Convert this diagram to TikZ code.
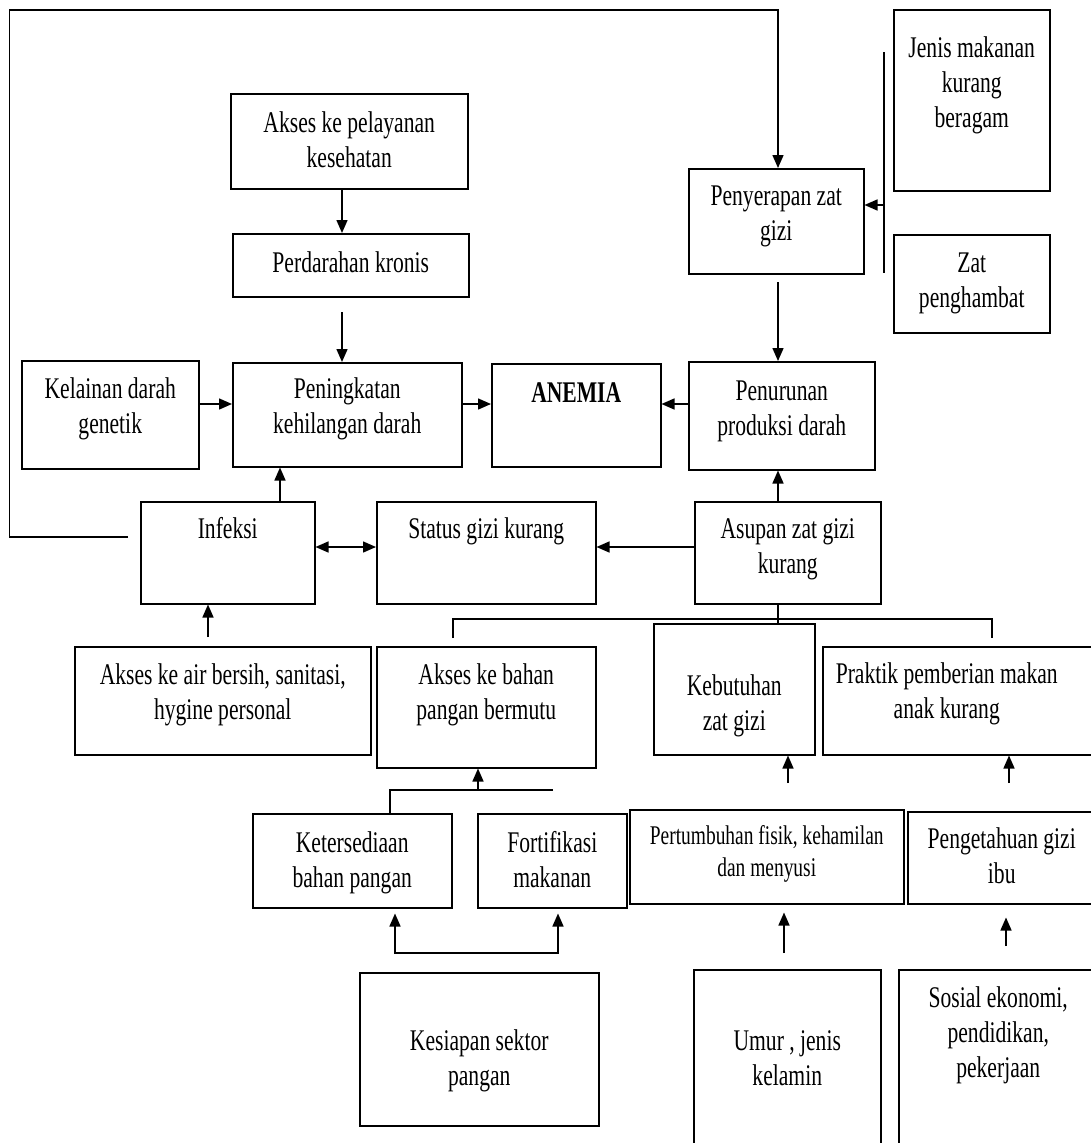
\documentclass[tikz,border=0pt]{standalone}
\usepackage{fontspec}
\setmainfont{Liberation Serif}[FakeStretch=0.72]
\usepackage{tikz}
\usetikzlibrary{arrows.meta}

\begin{document}
\begin{tikzpicture}[x=1pt, y=-1pt, line width=1.5pt, >={Triangle[length=13pt,width=11pt]},
    kotak/.style n args = {3}{draw, inner sep = 0pt, align = flush center, anchor = north west,
      text width = #1, text height = #2, text depth = #3, font = \fontsize{30}{35}\selectfont}]
  \useasboundingbox (0,0) rectangle (1091,1143);
  \clip (0,0) rectangle (1091,1143);

  \node[kotak={237pt}{39pt}{56pt}]  (akses)        at (230,93)  {Akses ke pelayanan\\kesehatan};
  \node[kotak={236pt}{39pt}{24pt}]  (perdarahan)   at (232,233) {Perdarahan kronis};
  \node[kotak={177pt}{38pt}{70pt}]  (kelainan)     at (21,360)  {Kelainan darah\\genetik};
  \node[kotak={229pt}{36pt}{68pt}]  (peningkatan)  at (232,362) {Peningkatan\\kehilangan darah};
  \node[kotak={169pt}{39pt}{64pt}]  (anemia)       at (491,363) {\textbf{ANEMIA}};
  \node[kotak={186pt}{39pt}{69pt}]  (penurunan)    at (688,361) {Penurunan\\produksi darah};
  \node[kotak={175pt}{37pt}{68pt}]  (penyerapan)   at (688,168) {Penyerapan zat\\gizi};
  \node[kotak={156pt}{48pt}{133pt}] (jenis)        at (893,9)   {Jenis makanan\\kurang\\beragam};
  \node[kotak={156pt}{38pt}{60pt}]  (zat)          at (893,234) {Zat\\penghambat};
  \node[kotak={174pt}{37pt}{65pt}]  (infeksi)      at (140,501) {Infeksi};
  \node[kotak={219pt}{37pt}{65pt}]  (status)       at (376,501) {Status gizi kurang};
  \node[kotak={186pt}{37pt}{65pt}]  (asupan)       at (694,501) {Asupan zat gizi\\kurang};
  \node[kotak={296pt}{38pt}{70pt}]  (airbersih)    at (74,646)  {Akses ke air bersih, sanitasi,\\hygine personal};
  \node[kotak={219pt}{38pt}{83pt}]  (bahan)        at (376,646) {Akses ke bahan\\pangan bermutu};
  \node[kotak={161pt}{72pt}{59pt}]  (kebutuhan)    at (653,623) {Kebutuhan\\zat gizi};
  \node[kotak={280pt}{37pt}{71pt}]  (praktik)      at (822,646) {\hspace*{-32pt}Praktik pemberian makan\\\hspace*{-32pt}anak kurang};
  \node[kotak={274pt}{35pt}{59pt}, font=\fontsize{27}{32}\selectfont]
                                    (pertumbuhan)  at (629,809) {Pertumbuhan fisik, kehamilan\\dan menyusi};
  \node[kotak={188pt}{37pt}{55pt}]  (pengetahuan)  at (907,811) {Pengetahuan gizi\\ibu};
  \node[kotak={199pt}{39pt}{55pt}]  (ketersediaan) at (252,813) {Ketersediaan\\bahan pangan};
  \node[kotak={149pt}{39pt}{55pt}]  (fortifikasi)  at (477,813) {Fortifikasi\\makanan};
  \node[kotak={239pt}{78pt}{75pt}]  (kesiapan)     at (359,972) {Kesiapan sektor\\pangan};
  \node[kotak={187pt}{81pt}{119pt}] (umur)         at (693,969) {Umur , jenis\\kelamin};
  \node[kotak={199pt}{38pt}{162pt}] (sosial)       at (898,969) {Sosial ekonomi,\\pendidikan,\\pekerjaan};

  \coordinate (lp) at (128,537);
  \coordinate (lk) at (9.5,10);
  \coordinate (pk) at (342,312);
  \coordinate (ps) at (778,282);
  \coordinate (br) at (884,205);
  \coordinate (ab) at (208,637);
  \coordinate (ta) at (453,638);
  \coordinate (tb) at (992,638);
  \coordinate (bh) at (478,790);
  \coordinate (be) at (553,790);
  \coordinate (kb) at (788,783);
  \coordinate (pr) at (1009,783);
  \coordinate (pt) at (784,953);
  \coordinate (pg) at (1006,946);
  \coordinate (ks) at (476,953);

  \draw[->] (lp) -| (lk) -| (penyerapan.north -| 778,0);
  \draw (br |- 0,52) -- (br |- 0,273);
  \draw (asupan.south -| 778,0) -- (kebutuhan.north -| 778,0);
  \draw (ta) |- (778,619) -| (tb);
  \draw (be) -| (ketersediaan.north -| 390,0);
  \draw[<->, shorten <=5pt, shorten >=5pt] (ketersediaan.south -| 395,0) |- (ks) -| (fortifikasi.south -| 558,0);

  \path[->] (akses.south -| 342,0) edge (perdarahan.north -| 342,0)
            (pk) edge (peningkatan.north -| pk)
            (kelainan.east |- 0,404) edge (peningkatan.west |- 0,404)
            (peningkatan.east |- 0,404) edge (anemia.west |- 0,404)
            (penurunan.west |- 0,404) edge (anemia.east |- 0,404)
            (ps) edge (penurunan.north -| ps)
            (br) edge (penyerapan.east |- br)
            (asupan.north -| 778,0) edge (penurunan.south -| 778,0)
            (infeksi.north -| 280,0) edge (peningkatan.south -| 280,0)
            (asupan.west |- 0,547) edge (status.east |- 0,547)
            (ab) edge (infeksi.south -| ab)
            (bh) edge (bahan.south -| bh)
            (kb) edge (kebutuhan.south -| kb)
            (pr) edge (praktik.south -| pr)
            (pt) edge[shorten >=8pt] (pertumbuhan.south -| pt)
            (pg) edge[shorten >=13pt] (pengetahuan.south -| pg);
  \path[<->] (infeksi.east |- 0,547) edge (status.west |- 0,547);
\end{tikzpicture}
\end{document}
